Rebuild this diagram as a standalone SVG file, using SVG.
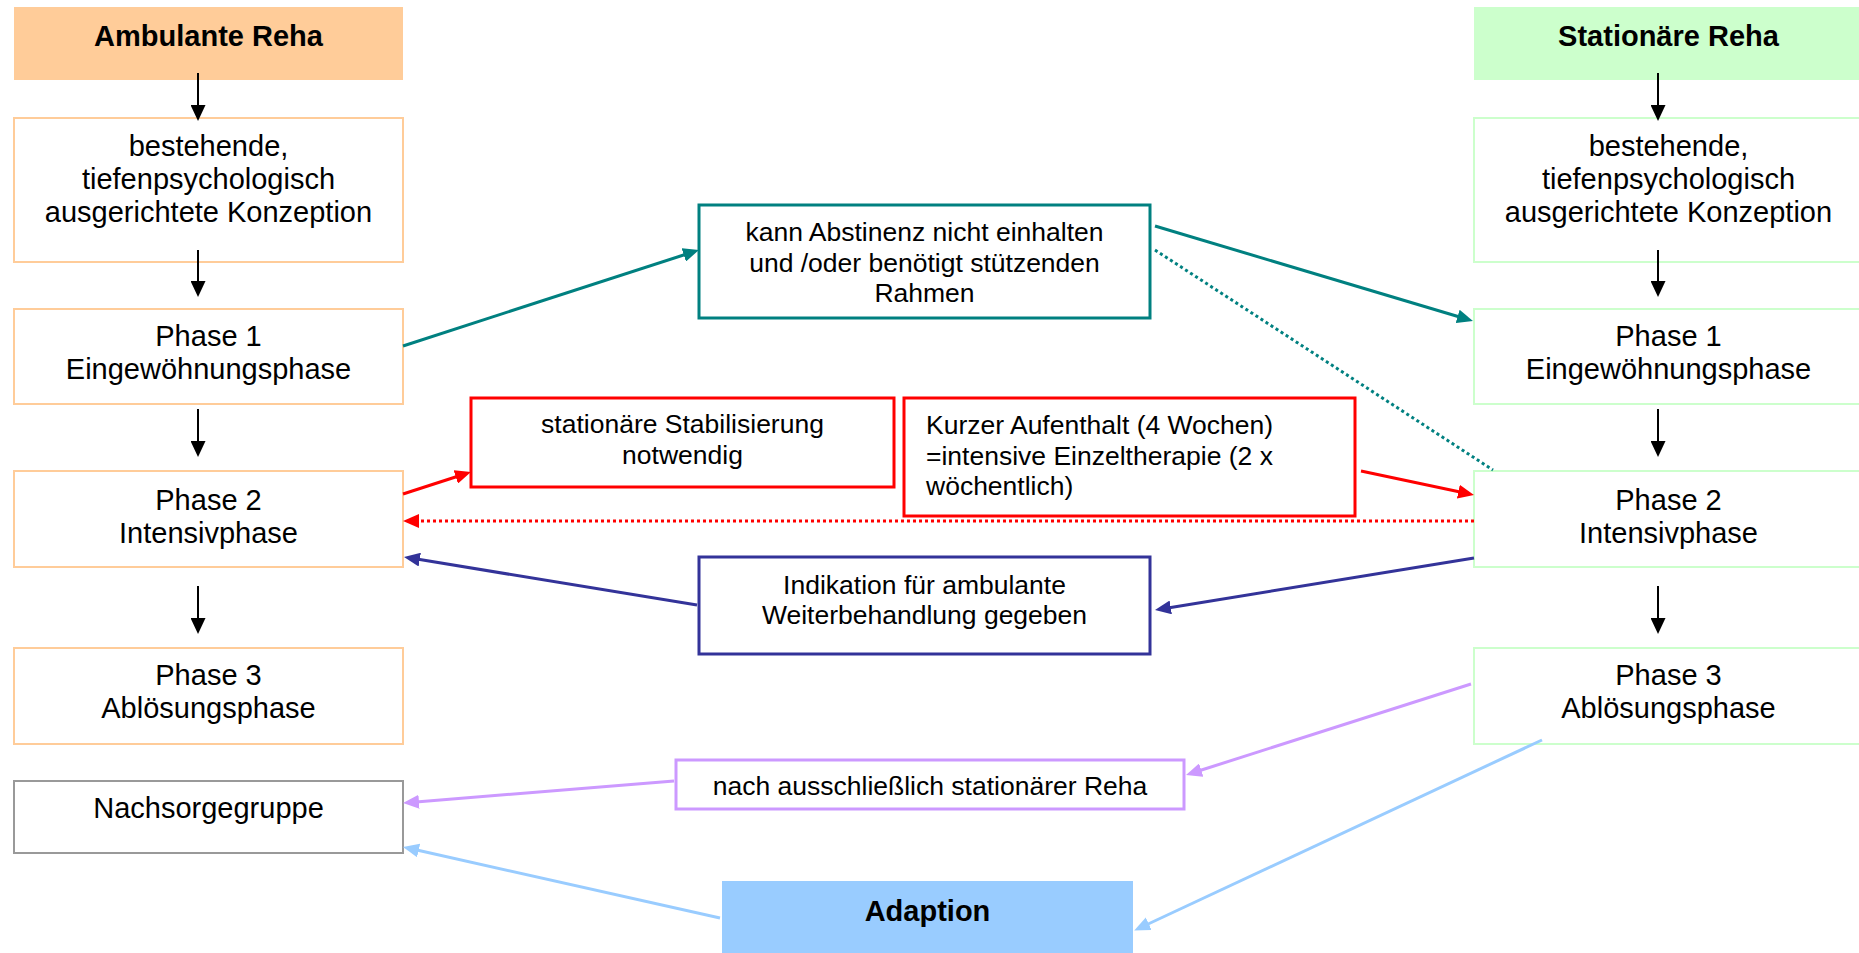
<svg xmlns="http://www.w3.org/2000/svg" width="1859" height="953" viewBox="0 0 1859 953">
<style>
text{font-family:"Liberation Sans",Arial,sans-serif;fill:#000}
.big{font-size:29px}
.mid{font-size:26.5px}
.b{font-weight:bold}
.c{text-anchor:middle}
.amb{fill:#fff;stroke:#FFCC99;stroke-width:2}
.sta{fill:#fff;stroke:#CCFFCC;stroke-width:2}
.gray{fill:#fff;stroke:#999999;stroke-width:2}
.teal{fill:#fff;stroke:#008080;stroke-width:3}
.red{fill:#fff;stroke:#FF0000;stroke-width:3}
.navy{fill:#fff;stroke:#333399;stroke-width:3}
.purp{fill:#fff;stroke:#CC99FF;stroke-width:3}
.k{stroke:#000;stroke-width:2;fill:none}
.lt{stroke:#008080;stroke-width:3;fill:none}
.lr{stroke:#FF0000;stroke-width:3;fill:none}
.ln{stroke:#333399;stroke-width:3;fill:none}
.lp{stroke:#CC99FF;stroke-width:3;fill:none}
.lb{stroke:#99CCFF;stroke-width:3;fill:none}
.dot{stroke-dasharray:3 3}
</style>
<defs>
<marker id="mk" markerUnits="userSpaceOnUse" markerWidth="16" markerHeight="15" refX="3" refY="7.5" orient="auto"><path d="M0,0 L16,7.5 L0,15 z" fill="#000"/></marker>
<marker id="mt" markerUnits="userSpaceOnUse" markerWidth="16" markerHeight="14" refX="3" refY="7" orient="auto"><path d="M0,0 L16,7 L0,14 z" fill="#008080"/></marker>
<marker id="mr" markerUnits="userSpaceOnUse" markerWidth="16" markerHeight="14" refX="3" refY="7" orient="auto"><path d="M0,0 L16,7 L0,14 z" fill="#FF0000"/></marker>
<marker id="mn" markerUnits="userSpaceOnUse" markerWidth="16" markerHeight="14" refX="3" refY="7" orient="auto"><path d="M0,0 L16,7 L0,14 z" fill="#333399"/></marker>
<marker id="mp" markerUnits="userSpaceOnUse" markerWidth="16" markerHeight="14" refX="3" refY="7" orient="auto"><path d="M0,0 L16,7 L0,14 z" fill="#CC99FF"/></marker>
<marker id="mb" markerUnits="userSpaceOnUse" markerWidth="16" markerHeight="14" refX="3" refY="7" orient="auto"><path d="M0,0 L16,7 L0,14 z" fill="#99CCFF"/></marker>
</defs>
<rect width="1859" height="953" fill="#fff"/>

<g id="amb-head"><rect x="14" y="7" width="389" height="73" fill="#FFCC99"/><text class="big b c" x="208.5" y="46">Ambulante Reha</text></g>
<g id="amb-konzept"><rect class="amb" x="14" y="118" width="389" height="144"/><text class="big c" x="208.5" y="156">bestehende,</text><text class="big c" x="208.5" y="189">tiefenpsychologisch</text><text class="big c" x="208.5" y="222">ausgerichtete Konzeption</text></g>
<g id="amb-phase1"><rect class="amb" x="14" y="309" width="389" height="95"/><text class="big c" x="208.5" y="346">Phase 1</text><text class="big c" x="208.5" y="379">Eingewöhnungsphase</text></g>
<g id="amb-phase2"><rect class="amb" x="14" y="471" width="389" height="96"/><text class="big c" x="208.5" y="510">Phase 2</text><text class="big c" x="208.5" y="543">Intensivphase</text></g>
<g id="amb-phase3"><rect class="amb" x="14" y="648" width="389" height="96"/><text class="big c" x="208.5" y="685">Phase 3</text><text class="big c" x="208.5" y="718">Ablösungsphase</text></g>
<g id="nachsorge"><rect class="gray" x="14" y="781" width="389" height="72"/><text class="big c" x="208.5" y="818">Nachsorgegruppe</text></g>

<g id="sta-head"><rect x="1474" y="7" width="389" height="73" fill="#CCFFCC"/><text class="big b c" x="1668.5" y="46">Stationäre Reha</text></g>
<g id="sta-konzept"><rect class="sta" x="1474" y="118" width="389" height="144"/><text class="big c" x="1668.5" y="156">bestehende,</text><text class="big c" x="1668.5" y="189">tiefenpsychologisch</text><text class="big c" x="1668.5" y="222">ausgerichtete Konzeption</text></g>
<g id="sta-phase1"><rect class="sta" x="1474" y="309" width="389" height="95"/><text class="big c" x="1668.5" y="346">Phase 1</text><text class="big c" x="1668.5" y="379">Eingewöhnungsphase</text></g>
<g id="sta-phase2"><rect class="sta" x="1474" y="471" width="389" height="96"/><text class="big c" x="1668.5" y="510">Phase 2</text><text class="big c" x="1668.5" y="543">Intensivphase</text></g>
<g id="sta-phase3"><rect class="sta" x="1474" y="648" width="389" height="96"/><text class="big c" x="1668.5" y="685">Phase 3</text><text class="big c" x="1668.5" y="718">Ablösungsphase</text></g>

<g id="abstinenz"><rect class="teal" x="699" y="205" width="451" height="113"/><text class="mid c" x="924.5" y="241">kann Abstinenz nicht einhalten</text><text class="mid c" x="924.5" y="271.5">und /oder benötigt stützenden</text><text class="mid c" x="924.5" y="302">Rahmen</text></g>
<g id="stabilisierung"><rect class="red" x="471" y="398" width="423" height="89"/><text class="mid c" x="682.5" y="433">stationäre Stabilisierung</text><text class="mid c" x="682.5" y="464">notwendig</text></g>
<g id="kurzer"><rect class="red" x="904" y="398" width="451" height="118"/><text class="mid" x="926" y="434">Kurzer Aufenthalt (4 Wochen)</text><text class="mid" x="926" y="464.5">=intensive Einzeltherapie (2 x</text><text class="mid" x="926" y="495">wöchentlich)</text></g>
<g id="indikation"><rect class="navy" x="699" y="557" width="451" height="97"/><text class="mid c" x="924.5" y="593.5">Indikation für ambulante</text><text class="mid c" x="924.5" y="624">Weiterbehandlung gegeben</text></g>
<g id="nach-stationaer"><rect class="purp" x="676" y="760" width="508" height="49"/><text class="mid c" x="930" y="795">nach ausschließlich stationärer Reha</text></g>
<g id="adaption"><rect x="722" y="881" width="411" height="80" fill="#99CCFF"/><text class="big b c" x="927.5" y="921">Adaption</text></g>

<g id="connectors">
<line class="k" x1="198" y1="73" x2="198" y2="108" marker-end="url(#mk)"/>
<line class="k" x1="198" y1="250" x2="198" y2="284" marker-end="url(#mk)"/>
<line class="k" x1="198" y1="409" x2="198" y2="444" marker-end="url(#mk)"/>
<line class="k" x1="198" y1="586" x2="198" y2="621" marker-end="url(#mk)"/>
<line class="k" x1="1658" y1="73" x2="1658" y2="108" marker-end="url(#mk)"/>
<line class="k" x1="1658" y1="250" x2="1658" y2="284" marker-end="url(#mk)"/>
<line class="k" x1="1658" y1="409" x2="1658" y2="444" marker-end="url(#mk)"/>
<line class="k" x1="1658" y1="586" x2="1658" y2="621" marker-end="url(#mk)"/>

<line class="lt" x1="403" y1="346" x2="686.6" y2="254" marker-end="url(#mt)"/>
<line class="lt" x1="1155" y1="226" x2="1460.5" y2="317.3" marker-end="url(#mt)"/>
<line class="lt dot" x1="1155" y1="250" x2="1493" y2="470"/>

<line class="lr" x1="403" y1="494" x2="458.6" y2="476" marker-end="url(#mr)"/>
<line class="lr" x1="1361" y1="471" x2="1461.3" y2="492.3" marker-end="url(#mr)"/>
<line class="lr dot" x1="1474" y1="521" x2="416" y2="521" marker-end="url(#mr)"/>

<line class="ln" x1="697" y1="605" x2="416.8" y2="559.1" marker-end="url(#mn)"/>
<line class="ln" x1="1474" y1="558" x2="1167.8" y2="607.9" marker-end="url(#mn)"/>

<line class="lp" x1="674" y1="781" x2="416" y2="802" marker-end="url(#mp)"/>
<line class="lp" x1="1471" y1="684" x2="1198.4" y2="771" marker-end="url(#mp)"/>

<line class="lb" x1="720" y1="918" x2="415.7" y2="849.8" marker-end="url(#mb)"/>
<line class="lb" x1="1542" y1="740" x2="1146" y2="925" marker-end="url(#mb)"/>
</g>
</svg>
